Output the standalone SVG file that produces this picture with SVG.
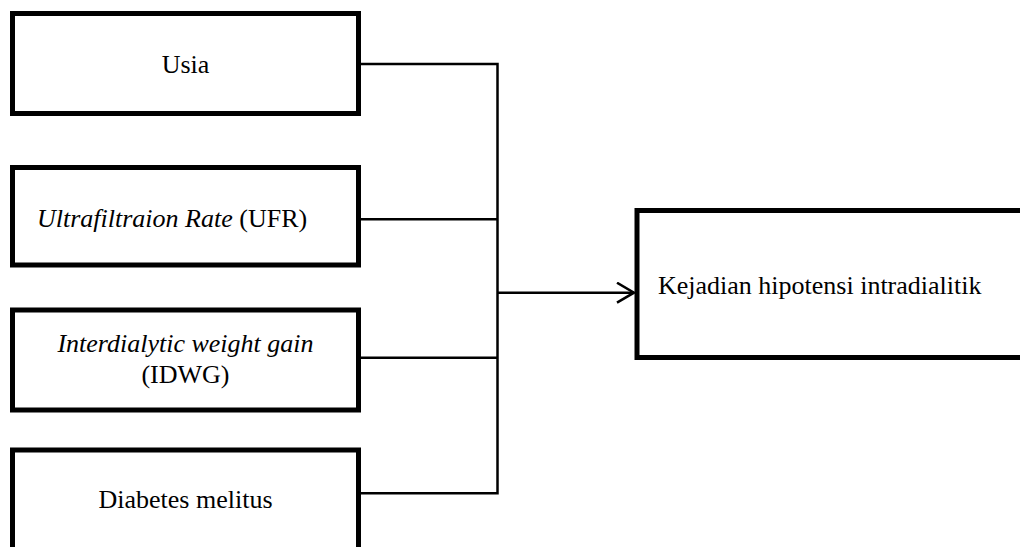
<svg xmlns="http://www.w3.org/2000/svg" width="1020" height="547" viewBox="0 0 1020 547">
<style>
.box{fill:#fff;stroke:#000;stroke-width:5;stroke-linejoin:miter}
.t{font-family:"Liberation Serif","Times New Roman",serif;font-size:26px;fill:#000}
.c{fill:none;stroke:#000;stroke-width:2.5}
</style>
<defs>
<marker id="arr" markerUnits="userSpaceOnUse" markerWidth="24" markerHeight="30" refX="18" refY="11" orient="auto" viewBox="0 0 24 30">
<path d="M1,1 L18,11 L1,21" fill="none" stroke="#000" stroke-width="2.5"/>
</marker>
</defs>
<rect width="1020" height="547" fill="#fff"/>
<g id="usia">
<rect class="box" x="12.5" y="13.5" width="346" height="100"/>
<text class="t" x="185.5" y="72.5" text-anchor="middle">Usia</text>
</g>
<g id="ufr">
<rect class="box" x="12.5" y="167.5" width="346" height="97.5"/>
<text class="t" x="37" y="226.5"><tspan font-style="italic">Ultrafiltraion Rate</tspan> (UFR)</text>
</g>
<g id="idwg">
<rect class="box" x="12.5" y="310" width="346" height="100"/>
<text class="t" x="185.5" y="351.5" text-anchor="middle" font-style="italic">Interdialytic weight gain</text>
<text class="t" x="185.5" y="383" text-anchor="middle">(IDWG)</text>
</g>
<g id="dm">
<rect class="box" x="12.5" y="450" width="346" height="110"/>
<text class="t" x="185.5" y="508" text-anchor="middle">Diabetes melitus</text>
</g>
<g id="hipotensi">
<rect class="box" x="637" y="210.5" width="400" height="147"/>
<text class="t" x="658" y="294">Kejadian hipotensi intradialitik</text>
</g>
<g id="connectors">
<path class="c" d="M361,64 H497.5 V493.3 H361"/>
<path class="c" d="M361,219.3 H497.5"/>
<path class="c" d="M361,357.7 H497.5"/>
<path class="c" d="M497.5,292.7 H634" marker-end="url(#arr)"/>
</g>
</svg>
